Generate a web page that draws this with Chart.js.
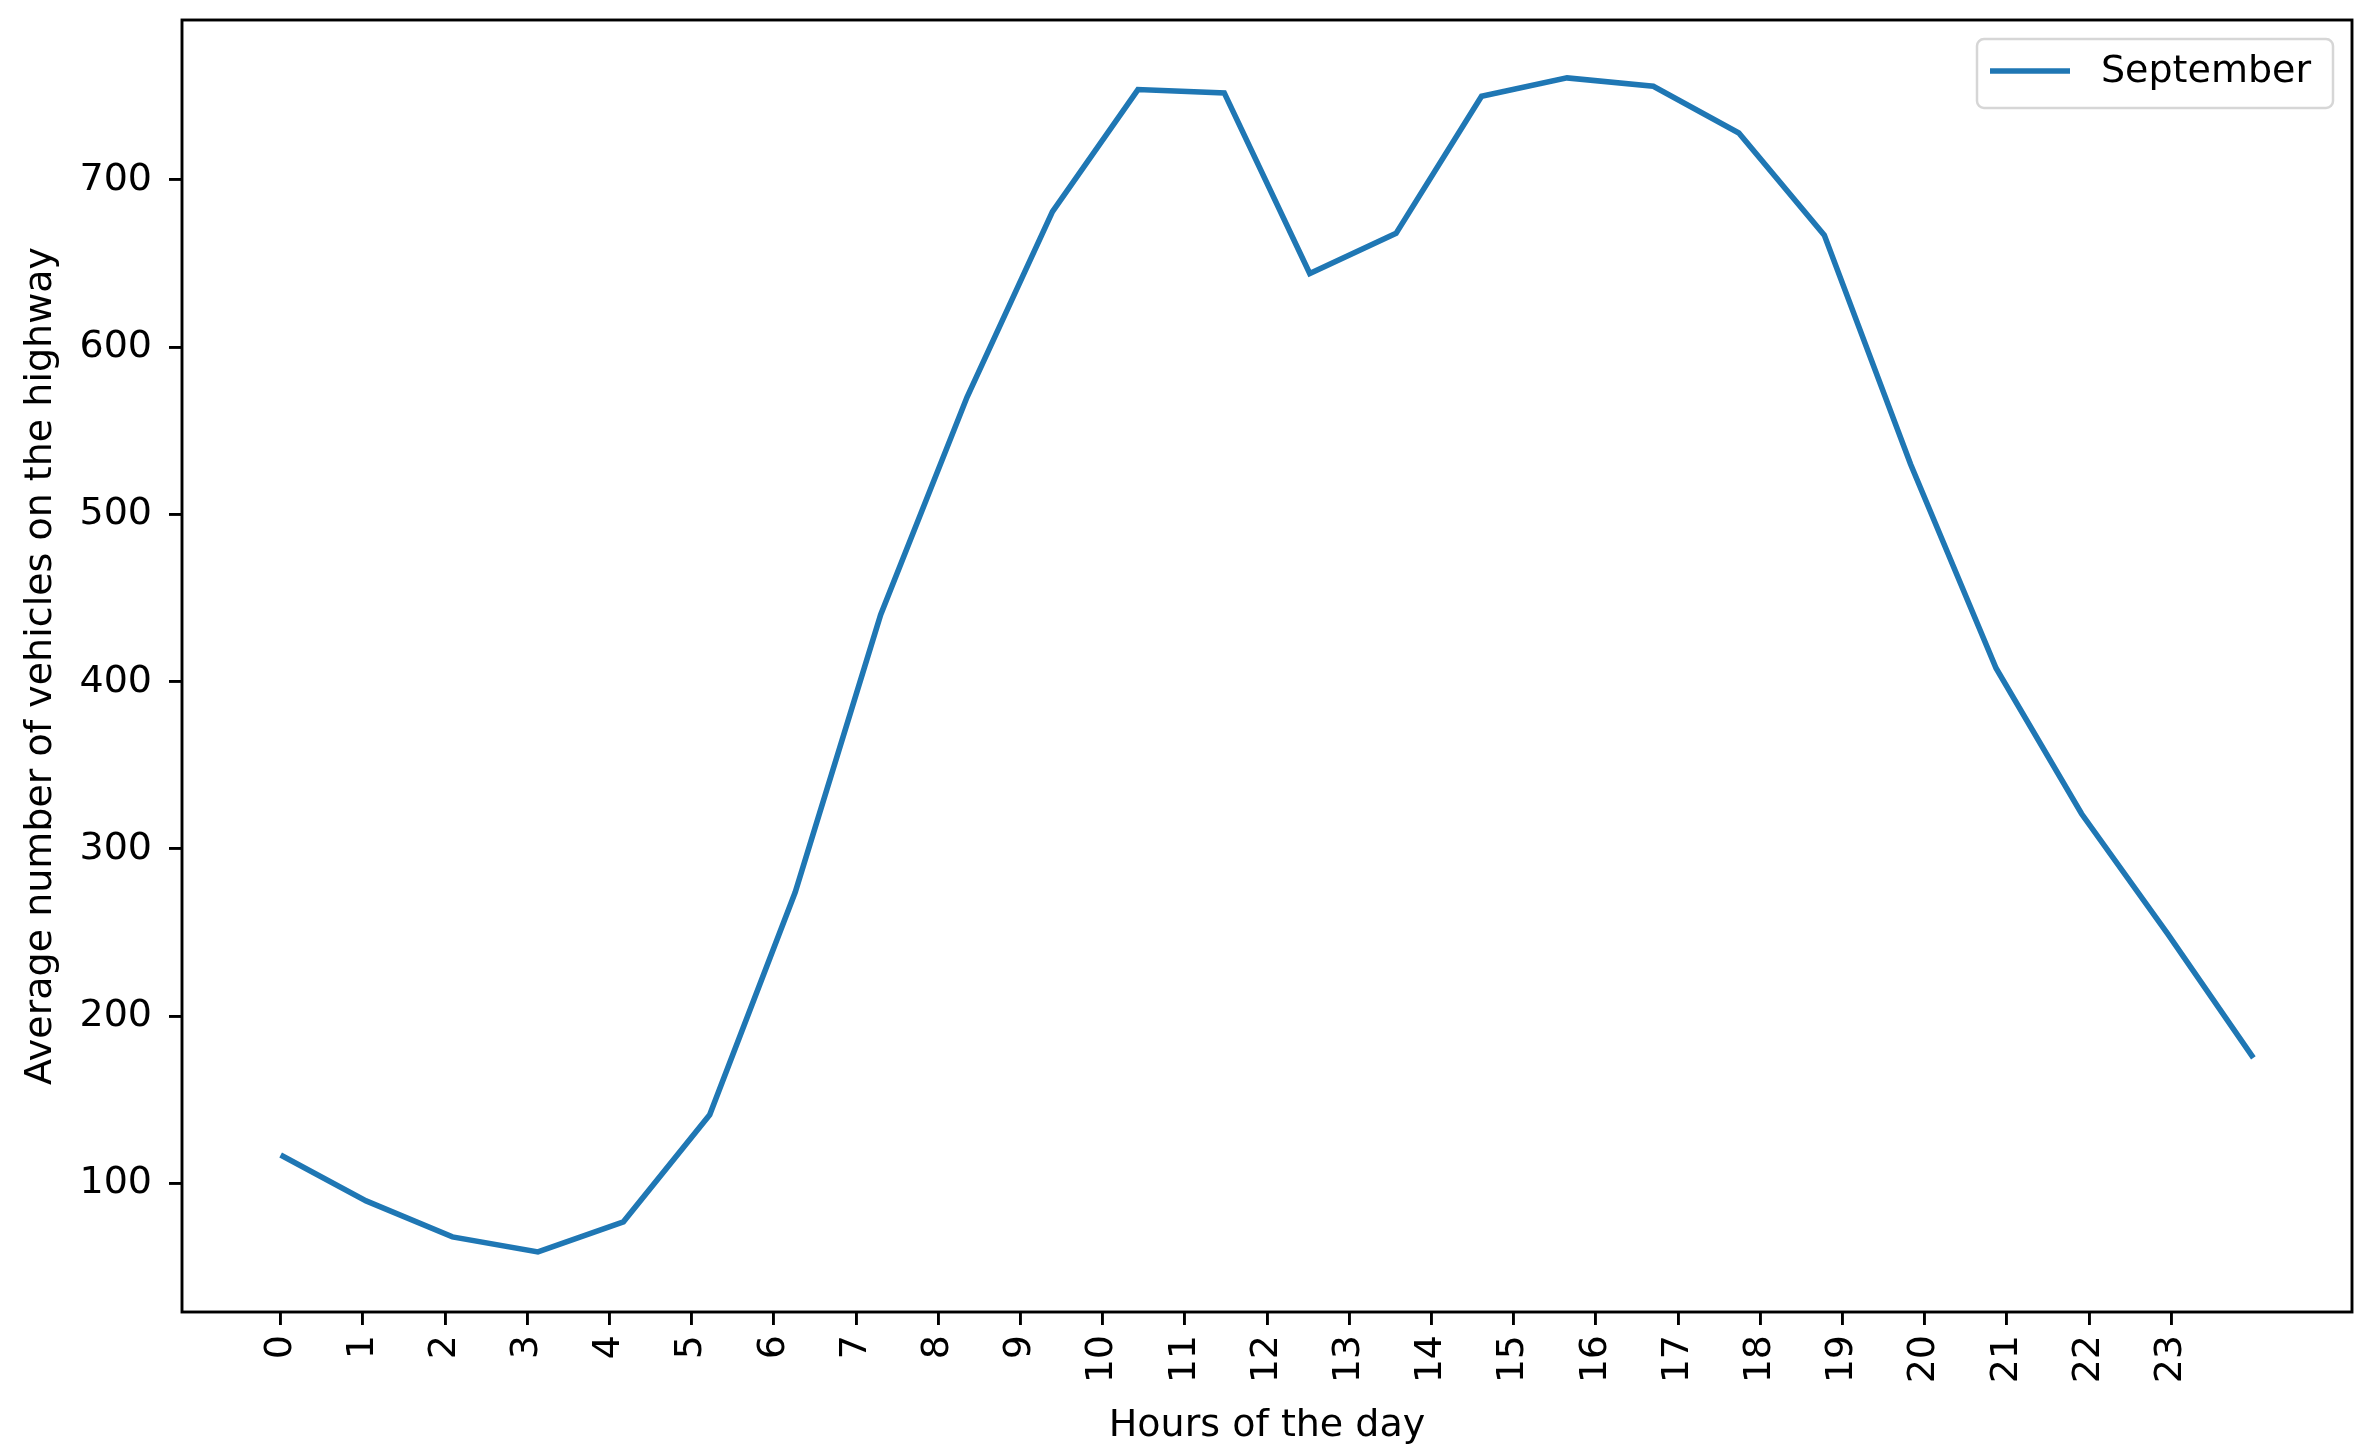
<!DOCTYPE html>
<html>
<head>
<meta charset="utf-8">
<script src="https://cdn.jsdelivr.net/npm/chart.js@4.4.1/dist/chart.umd.min.js"></script>
<style>
  html, body { margin: 0; padding: 0; background: #fff; }
  #wrap { width: 2368px; height: 1451px; }
</style>
</head>
<body>
<div id="wrap"><canvas id="chart" width="2368" height="1451"></canvas></div>
<script>
// September: average vehicles per hour
const seriesLabel = 'September';
const hourPositions = [0, 1.04, 2.09, 3.13, 4.17, 5.22, 6.26, 7.30, 8.35, 9.39, 10.43, 11.48,
  12.52, 13.57, 14.61, 15.65, 16.70, 17.74, 18.78, 19.83, 20.87, 21.91, 22.96, 24.0];
const vehicles = [117, 89.5, 68, 59, 77, 141, 274, 440, 570, 681, 754, 752,
  644, 668, 750, 761, 756, 728, 667, 530, 408, 321, 249, 175];
const hourTicks = [0, 1, 2, 3, 4, 5, 6, 7, 8, 9, 10, 11, 12, 13, 14, 15, 16, 17, 18, 19, 20, 21, 22, 23];
const yTicks = [100, 200, 300, 400, 500, 600, 700];

const FONT = 'DejaVu Sans';
const FS = 38;
const LINE = '#1f77b4';

const frame = {
  id: 'frame',
  afterDraw(chart) {
    const { ctx, chartArea: a } = chart;
    ctx.save();
    ctx.strokeStyle = '#000';
    ctx.lineWidth = 2.9;
    ctx.strokeRect(a.left, a.top, a.right - a.left, a.bottom - a.top);

    // legend box, upper right inside the axes
    const w = 356, h = 69;
    const x = a.right - 19 - w, y = a.top + 19;
    ctx.fillStyle = 'rgba(255,255,255,0.8)';
    ctx.strokeStyle = '#d6d6d6';
    ctx.lineWidth = 2.5;
    ctx.beginPath();
    ctx.roundRect(x, y, w, h, 7);
    ctx.fill();
    ctx.stroke();
    ctx.strokeStyle = LINE;
    ctx.lineWidth = 5.6;
    ctx.beginPath();
    ctx.moveTo(x + 13, y + 32);
    ctx.lineTo(x + 93, y + 32);
    ctx.stroke();
    ctx.fillStyle = '#000';
    ctx.font = FS + 'px "' + FONT + '"';
    ctx.textBaseline = 'middle';
    ctx.fillText(seriesLabel, x + 124, y + 33);
    ctx.restore();
  }
};

new Chart(document.getElementById('chart'), {
  type: 'line',
  data: {
    datasets: [{
      label: seriesLabel,
      data: hourPositions.map((h, i) => ({ x: h, y: vehicles[i] })),
      borderColor: LINE,
      borderWidth: 5.6,
      pointRadius: 0,
      tension: 0,
      fill: false
    }]
  },
  options: {
    responsive: false,
    animation: false,
    layout: { padding: { top: 20, right: 16, left: 0, bottom: 0 } },
    plugins: { legend: { display: false }, tooltip: { enabled: false } },
    scales: {
      x: {
        type: 'linear',
        min: -1.2,
        max: 25.2,
        afterBuildTicks: (s) => { s.ticks = hourTicks.map((v) => ({ value: v })); },
        afterFit: (s) => { s.height = 139; s.paddingLeft = 0; s.paddingRight = 0; },
        border: { display: false },
        grid: { drawOnChartArea: false, color: '#000', tickLength: 13, lineWidth: 2.9 },
        ticks: {
          autoSkip: false,
          minRotation: 90,
          maxRotation: 90,
          padding: 10,
          color: '#000',
          font: { family: FONT, size: FS },
          callback: (v) => String(v)
        },
        title: {
          display: true,
          text: 'Hours of the day',
          color: '#000',
          font: { family: FONT, size: FS },
          padding: { top: 0, bottom: 2 }
        }
      },
      y: {
        min: 23.1,
        max: 795.6,
        afterBuildTicks: (s) => { s.ticks = yTicks.map((v) => ({ value: v })); },
        afterFit: (s) => { s.width = 182; s.paddingTop = 0; s.paddingBottom = 0; },
        border: { display: false },
        grid: { drawOnChartArea: false, color: '#000', tickLength: 13, lineWidth: 2.9 },
        ticks: {
          padding: 17,
          color: '#000',
          font: { family: FONT, size: FS },
          callback: (v) => String(v)
        },
        title: {
          display: true,
          text: 'Average number of vehicles on the highway',
          color: '#000',
          font: { family: FONT, size: FS },
          padding: { top: 18, bottom: 0 }
        }
      }
    }
  },
  plugins: [frame]
});
</script>
</body>
</html>
